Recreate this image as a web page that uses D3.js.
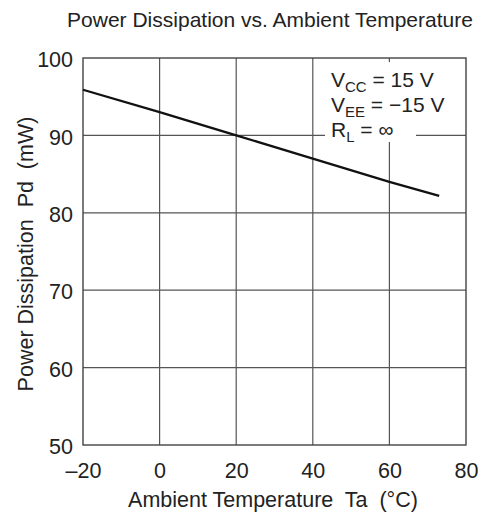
<!DOCTYPE html>
<html>
<head>
<meta charset="utf-8">
<script src="https://cdn.jsdelivr.net/npm/d3@7"></script>
<style>
  body { margin: 0; background: #fff; }
  svg text { font-family: "Liberation Sans", Arial, sans-serif; fill: #222; }
</style>
</head>
<body>
<script>
// values
var tempTicks = [-20, 0, 20, 40, 60, 80];
var pdTicks = [50, 60, 70, 80, 90, 100];
var temps = [-20, 0, 20, 40, 60, 73];
var pdVals = [95.9, 93.0, 90.0, 87.0, 84.0, 82.2];

var width = 483, height = 519;
var margin = {left: 83, right: 17, top: 58, bottom: 74};

var svg = d3.select("body").append("svg")
  .attr("width", width)
  .attr("height", height);

var x = d3.scaleLinear().domain([-20, 80]).range([margin.left, width - margin.right]);
var y = d3.scaleLinear().domain([50, 100]).range([height - margin.bottom, margin.top]);

// grid
svg.append("g").selectAll("line.v")
  .data(tempTicks.slice(1, -1))
  .enter().append("line")
  .attr("x1", function(d){ return x(d); })
  .attr("x2", function(d){ return x(d); })
  .attr("y1", y(50)).attr("y2", y(100))
  .attr("stroke", "#555").attr("stroke-width", 1.2);

svg.append("g").selectAll("line.h")
  .data(pdTicks.slice(1, -1))
  .enter().append("line")
  .attr("y1", function(d){ return y(d); })
  .attr("y2", function(d){ return y(d); })
  .attr("x1", x(-20)).attr("x2", x(80))
  .attr("stroke", "#555").attr("stroke-width", 1.2);

// legend background hides the grid
svg.append("rect")
  .attr("x", 325).attr("y", 62)
  .attr("width", 91).attr("height", 80)
  .attr("fill", "#fff");

// frame
svg.append("rect")
  .attr("x", x(-20)).attr("y", y(100))
  .attr("width", x(80) - x(-20)).attr("height", y(50) - y(100))
  .attr("fill", "none").attr("stroke", "#444").attr("stroke-width", 1.4);

// axes (labels only)
var xAxis = svg.append("g")
  .attr("transform", "translate(0," + (y(50) + 18) + ")")
  .call(d3.axisBottom(x).tickValues(tempTicks).tickSize(0).tickPadding(0)
    .tickFormat(function(d){ return d < 0 ? "\u2013" + Math.abs(d) : d; }));
xAxis.select(".domain").remove();
xAxis.selectAll("text").attr("font-size", 21.5).attr("fill", "#222");

var yAxis = svg.append("g")
  .attr("transform", "translate(" + (x(-20) - 10) + ",0)")
  .call(d3.axisLeft(y).tickValues(pdTicks).tickSize(0).tickPadding(0));
yAxis.select(".domain").remove();
yAxis.selectAll("text").attr("font-size", 21.5).attr("fill", "#222")
  .attr("dy", "0.4em");

// data line
var line = d3.line()
  .x(function(d, i){ return x(temps[i]); })
  .y(function(d){ return y(d); });

svg.append("path")
  .datum(pdVals)
  .attr("d", line)
  .attr("fill", "none")
  .attr("stroke", "#111")
  .attr("stroke-width", 2.3);

// titles
svg.append("text")
  .attr("x", 270).attr("y", 27)
  .attr("text-anchor", "middle")
  .attr("font-size", 21)
  .text("Power Dissipation vs. Ambient Temperature");

svg.append("text")
  .attr("x", 273).attr("y", 506.5)
  .attr("text-anchor", "middle")
  .attr("font-size", 21.5)
  .attr("xml:space", "preserve")
  .text("Ambient Temperature  Ta  (\u00B0C)");

svg.append("text")
  .attr("transform", "translate(33,254) rotate(-90)")
  .attr("text-anchor", "middle")
  .attr("font-size", 21.5)
  .attr("xml:space", "preserve")
  .text("Power Dissipation  Pd  (mW)");

// conditions legend
var cond = [
  {main: "V", sub: "CC", rest: " = 15 V", y: 86.5},
  {main: "V", sub: "EE", rest: " = \u221215 V", y: 111.5},
  {main: "R", sub: "L", rest: " = \u221E", y: 136.5}
];
cond.forEach(function(c){
  var t = svg.append("text")
    .attr("x", 331).attr("y", c.y)
    .attr("font-size", 21)
    .attr("xml:space", "preserve");
  t.append("tspan").text(c.main);
  t.append("tspan").attr("font-size", 15).attr("dy", 5).text(c.sub);
  t.append("tspan").attr("dy", -5).text(c.rest);
});
</script>
</body>
</html>
